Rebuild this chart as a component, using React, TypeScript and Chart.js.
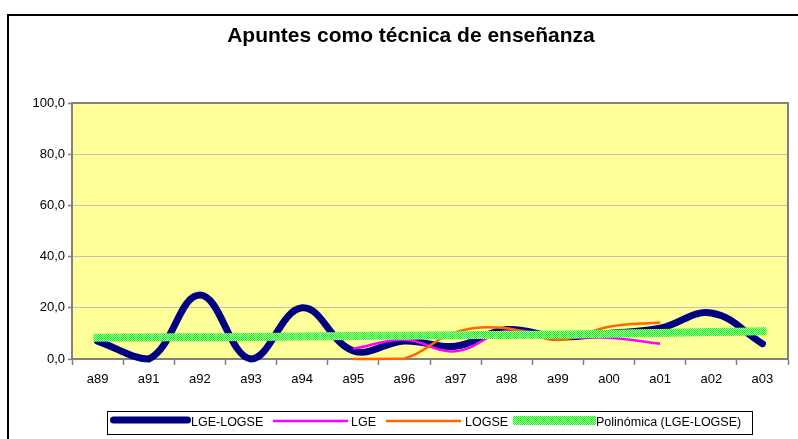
import React, { useEffect, useRef } from "react";
import { Chart, registerables } from "chart.js";

Chart.register(...registerables);

const categories = ["a89", "a91", "a92", "a93", "a94", "a95", "a96", "a97", "a98", "a99", "a00", "a01", "a02", "a03"];
const lgeLogse = [7.0, 0.0, 25.0, 0.0, 20.0, 3.2, 7.0, 5.0, 11.5, 8.6, 10.0, 12.0, 18.0, 6.0];
const lge = [null, null, null, null, null, 4.0, 7.5, 3.0, 11.0, 8.5, 8.3, 6.0, null, null];
const logse = [null, null, null, null, null, 0.0, 0.2, 10.5, 12.0, 7.4, 12.6, 14.3, null, null];
const polinomica = [8.3, 8.4, 8.5, 8.6, 8.8, 9.0, 9.1, 9.3, 9.4, 9.5, 9.9, 10.2, 10.5, 10.8];
const yTicks = [0, 20, 40, 60, 80, 100];
const legendLabels = ["LGE-LOGSE", "LGE", "LOGSE", "Polinómica (LGE-LOGSE)"];
const titleText = "Apuntes como técnica de enseñanza";

const NAVY = "#000080";
const MAGENTA = "#FF00FF";
const ORANGE = "#FF6600";

function makePattern(): CanvasPattern | string {
  const c = document.createElement("canvas");
  c.width = 2;
  c.height = 2;
  const g = c.getContext("2d");
  if (!g) return "#66FF66";
  g.fillStyle = "#b0ffb0";
  g.fillRect(0, 0, 2, 2);
  g.fillStyle = "#1ef01e";
  g.fillRect(0, 0, 1, 1);
  g.fillRect(1, 1, 1, 1);
  const p = g.createPattern(c, "repeat");
  return p || "#66FF66";
}

export default function App() {
  const ref = useRef<HTMLCanvasElement | null>(null);

  useEffect(() => {
    const canvas = ref.current;
    if (!canvas) return;
    const pattern = makePattern();

    const decor = {
      id: "decor",
      beforeDraw(chart: any) {
        const ctx = chart.ctx;
        const a = chart.chartArea;
        ctx.save();
        ctx.fillStyle = "#ffffff";
        ctx.fillRect(0, 0, chart.width, chart.height);
        ctx.fillStyle = "#000000";
        ctx.fillRect(7, 14, 2, chart.height);
        ctx.fillRect(7, 14, chart.width, 2);
        ctx.fillStyle = "#FFFF99";
        ctx.fillRect(a.left, a.top, a.right - a.left, a.bottom - a.top);
        ctx.fillStyle = "#000000";
        ctx.font = "bold 21px 'Liberation Sans', Arial, sans-serif";
        ctx.textAlign = "center";
        ctx.textBaseline = "middle";
        ctx.fillText(titleText, 411, 36);
        ctx.restore();
      },
      beforeDatasetsDraw(chart: any) {
        const ctx = chart.ctx;
        const a = chart.chartArea;
        ctx.save();
        ctx.strokeStyle = "#808080";
        ctx.lineWidth = 2;
        ctx.beginPath();
        ctx.moveTo(a.left, a.top);
        ctx.lineTo(a.right, a.top);
        ctx.lineTo(a.right, a.bottom);
        ctx.stroke();
        ctx.restore();
      },
      afterDraw(chart: any) {
        const ctx = chart.ctx;
        ctx.save();
        ctx.strokeStyle = "#000000";
        ctx.lineWidth = 1;
        ctx.strokeRect(107.5, 411.5, 645, 23);
        ctx.font = "12.5px 'Liberation Sans', Arial, sans-serif";
        ctx.textAlign = "left";
        ctx.textBaseline = "middle";
        ctx.fillStyle = "#000000";
        const ty = 423;
        ctx.strokeStyle = NAVY;
        ctx.lineWidth = 7;
        ctx.lineCap = "round";
        ctx.beginPath();
        ctx.moveTo(113.5, 420);
        ctx.lineTo(187.5, 420);
        ctx.stroke();
        ctx.fillText(legendLabels[0], 191, ty);
        ctx.strokeStyle = MAGENTA;
        ctx.lineWidth = 2.5;
        ctx.lineCap = "butt";
        ctx.beginPath();
        ctx.moveTo(273, 421);
        ctx.lineTo(348, 421);
        ctx.stroke();
        ctx.fillText(legendLabels[1], 351, ty);
        ctx.strokeStyle = ORANGE;
        ctx.beginPath();
        ctx.moveTo(386, 421);
        ctx.lineTo(461, 421);
        ctx.stroke();
        ctx.fillText(legendLabels[2], 465, ty);
        ctx.fillStyle = pattern as any;
        ctx.fillRect(513, 416, 83, 9);
        ctx.fillStyle = "#000000";
        ctx.fillText(legendLabels[3], 596, ty);
        ctx.restore();
      },
    };

    const chart = new Chart(canvas, {
      type: "line",
      data: {
        labels: categories,
        datasets: [
          {
            label: legendLabels[3],
            data: polinomica,
            borderColor: pattern as any,
            borderWidth: 8,
            borderCapStyle: "square",
            tension: 0.4,
            pointRadius: 0,
            fill: false,
            clip: 12,
            order: 0,
          },
          {
            label: legendLabels[2],
            data: logse,
            borderColor: ORANGE,
            borderWidth: 2.5,
            tension: 0.4,
            pointRadius: 0,
            fill: false,
            clip: 12,
            order: 1,
          },
          {
            label: legendLabels[1],
            data: lge,
            borderColor: MAGENTA,
            borderWidth: 2.5,
            tension: 0.4,
            pointRadius: 0,
            fill: false,
            clip: 12,
            order: 2,
          },
          {
            label: legendLabels[0],
            data: lgeLogse,
            borderColor: NAVY,
            borderWidth: 7,
            borderCapStyle: "round",
            borderJoinStyle: "round",
            tension: 0.4,
            pointRadius: 0,
            fill: false,
            clip: 12,
            order: 3,
          },
        ] as any,
      },
      options: {
        responsive: false,
        animation: false,
        layout: { padding: { top: 103, right: 10, left: 0, bottom: 0 } },
        plugins: {
          legend: { display: false },
          title: { display: false },
          tooltip: { enabled: false },
        },
        scales: {
          x: {
            offset: true,
            grid: {
              offset: true,
              drawOnChartArea: false,
              drawTicks: true,
              tickLength: 6,
              tickColor: "#808080",
              tickWidth: 1.5,
            },
            border: { color: "#808080", width: 2 },
            ticks: {
              color: "#000000",
              font: { family: "'Liberation Sans', Arial, sans-serif", size: 13 },
              padding: 7,
              maxRotation: 0,
              autoSkip: false,
            },
            afterFit(scale: any) {
              scale.height = 80;
            },
          },
          y: {
            min: 0,
            max: 100,
            afterBuildTicks(scale: any) {
              scale.ticks = yTicks.map((v) => ({ value: v }));
            },
            grid: {
              color: "#c0c0c0",
              lineWidth: 1,
              drawTicks: true,
              tickLength: 4,
              tickColor: "#808080",
              tickWidth: 1.5,
            },
            border: { color: "#808080", width: 2 },
            ticks: {
              color: "#000000",
              font: { family: "'Liberation Sans', Arial, sans-serif", size: 13 },
              padding: 3,
              callback: (v: any) => Number(v).toFixed(1).replace(".", ","),
            },
            afterFit(scale: any) {
              scale.width = 72;
            },
          },
        },
      },
      plugins: [decor],
    });

    return () => chart.destroy();
  }, []);

  return (
    <div style={{ position: "absolute", left: 0, top: 0, width: 798, height: 439 }}>
      <canvas ref={ref} width={798} height={439} style={{ display: "block" }} />
    </div>
  );
}
